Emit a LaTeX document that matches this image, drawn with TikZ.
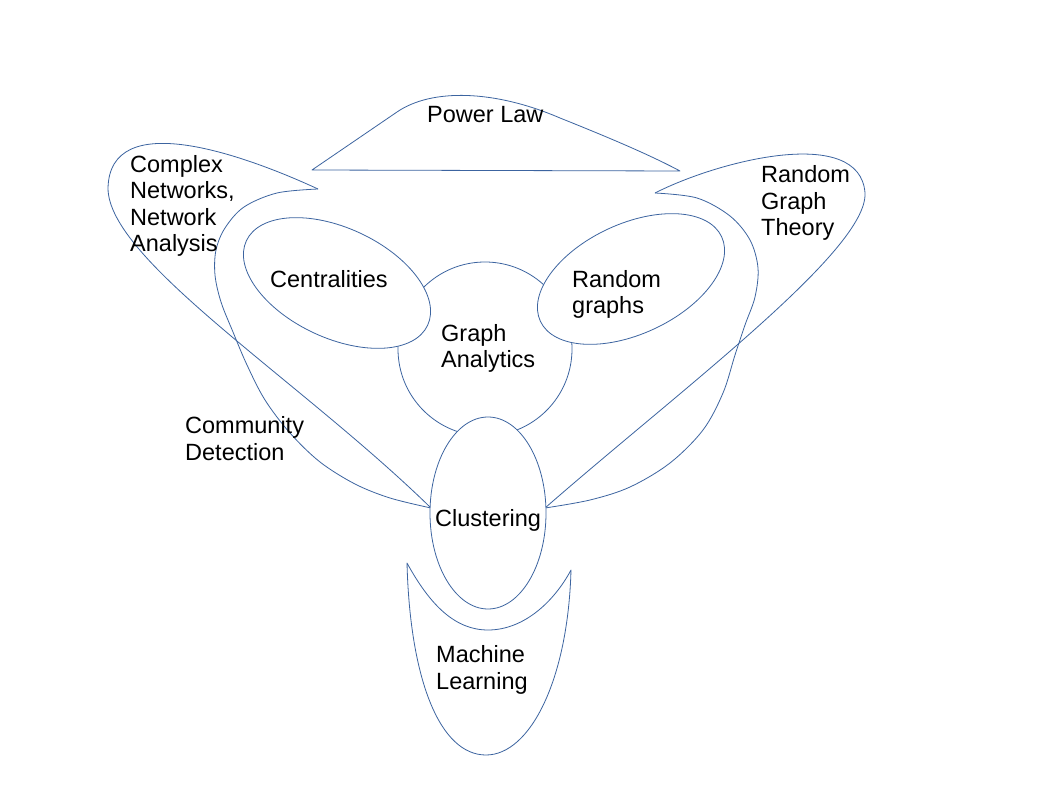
\documentclass[tikz,border=0pt]{standalone}
\usepackage{fontspec}
\setmainfont{Liberation Sans}
\definecolor{edge}{RGB}{60,100,160}
\tikzset{
  shape line/.style={draw=edge, line width=0.8pt, line join=round},
  white shape/.style={shape line, fill=white},
  lbl/.style={anchor=base west, inner sep=0pt, align=left, text=black,
    font=\fontsize{23.5}{26.6}\selectfont},
}
\begin{document}
\begin{tikzpicture}[x=1pt,y=-1pt]
\useasboundingbox[fill=white] (0,0) rectangle (1058,794);

% Complex Networks / Community Detection shape
\draw[shape line] (318,189) .. controls (240,153) and (110,108) .. (108,188)
  .. controls (108,260) and (300,380) .. (431,508);
\draw[shape line] plot[smooth, tension=0.55] coordinates {(431,508) (390,498) (355,484) (320,462) (290,433) (265,400) (247,365) (233,332) (221,302) (215,275) (216,250) (225,228) (244,207) (277,193) (318,189)};

% Random Graph Theory shape
\draw[shape line] (655,193) .. controls (720,160) and (860,125) .. (865,193)
  .. controls (868,250) and (680,390) .. (545,508);
\draw[shape line] plot[smooth, tension=0.55] coordinates {(545,508) (590,500) (630,487) (670,463) (703,430) (723,393) (735,355) (745,325) (755,297) (758,268) (750,240) (730,216) (697,198) (655,193)};

% Power Law shape
\draw[shape line] (312,170) -- (397,112)
  .. controls (432,88) and (495,90) .. (560,118)
  .. controls (610,138) and (650,155) .. (680,171) -- cycle;

% Graph Analytics circle
\draw[shape line] (485,349) circle[radius=87];

% Centralities and Random graphs ellipses
\draw[white shape, rotate around={-25:(337,283)}] (337,283) ellipse[x radius=100, y radius=55];
\draw[white shape, rotate around={25:(631,279)}] (631,279) ellipse[x radius=100, y radius=55];

% Clustering ellipse
\draw[white shape] (488,513) ellipse[x radius=58, y radius=96];

% Machine Learning shape
\draw[shape line] (407,563) .. controls (430,605) and (455,630) .. (488,630)
  .. controls (525,630) and (555,600) .. (571,570)
  .. controls (568,680) and (530,755) .. (486,755)
  .. controls (440,755) and (410,680) .. (407,563) -- cycle;

% Labels (anchor is the baseline of the last line)
\node[lbl] (powerlaw) at (427,123) {Power Law};
\node[lbl] (complex) at (130,252) {Complex\\Networks,\\Network\\Analysis};
\node[lbl] (rgt) at (761,236) {Random\\Graph\\Theory};
\node[lbl] (centralities) at (270,288) {Centralities};
\node[lbl] (randomgraphs) at (572,314) {Random\\graphs};
\node[lbl] (graphanalytics) at (441,368) {Graph\\Analytics};
\node[lbl] (community) at (185,460) {Community\\Detection};
\node[lbl] (clustering) at (435,526) {Clustering};
\node[lbl] (ml) at (436,689) {Machine\\Learning};
\end{tikzpicture}
\end{document}
